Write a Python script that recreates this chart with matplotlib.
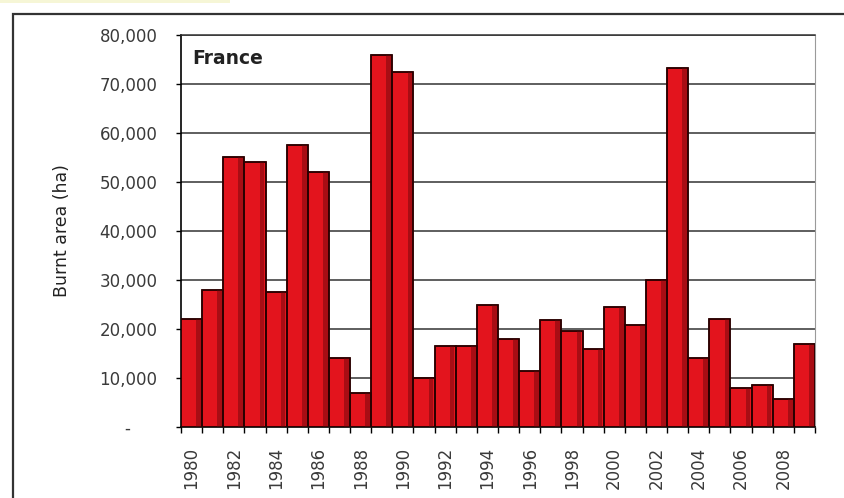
import matplotlib
matplotlib.use("Agg")
import matplotlib.pyplot as plt
from matplotlib.lines import Line2D
from matplotlib.patches import Rectangle
import numpy as np

# Burnt area in France per year (hectares)
years = list(range(1980, 2010))
burnt_area = [22000, 28000, 55000, 54000, 27500, 57500, 52000, 14000, 7000, 76000,
              72500, 10000, 16500, 16500, 25000, 18000, 11500, 21800, 19500, 16000,
              24500, 20800, 30000, 73300, 14000, 22000, 8000, 8500, 5700, 17000]
y_ticks = [0, 10000, 20000, 30000, 40000, 50000, 60000, 70000, 80000]
y_tick_labels = ["-     ", "10,000", "20,000", "30,000", "40,000",
                 "50,000", "60,000", "70,000", "80,000"]
country = "France"
y_title = "Burnt area (ha)"

W, H = 845, 498
fig = plt.figure(figsize=(W / 100, H / 100), dpi=100)
fig.patch.set_facecolor("white")

# faint yellow strip along the top edge and the outer frame
fig.add_artist(Rectangle((0, 1 - 3 / H), 230 / W, 3 / H, transform=fig.transFigure,
                         facecolor="#f6f6d6", edgecolor="none"))
fx, fy = 13.5 / W, 1 - 14.5 / H
fig.add_artist(Line2D([fx, fx, 1.0], [0.0, fy, fy], transform=fig.transFigure,
                      color="#333333", linewidth=1.6, solid_joinstyle="miter"))

ax = fig.add_axes([181 / W, 1 - 427 / H, (815 - 181) / W, (427 - 35) / H])

x = np.arange(len(years))
ax.bar(x, burnt_area, width=1.0, color="#e3141d", edgecolor="#2a0000",
       linewidth=1.1, zorder=3)
# darker shading on the right side of each bar
ax.bar(x + 0.33, burnt_area, width=0.22, color="#a80d14", edgecolor="none",
       linewidth=0, zorder=3.5)
ax.bar(x, burnt_area, width=1.0, color="none", edgecolor="#2a0000",
       linewidth=1.1, zorder=4)

ax.set_xlim(-0.5, len(years) - 0.5)
ax.set_ylim(0, 80000)

ax.set_yticks(y_ticks)
ax.set_yticklabels(y_tick_labels)
ax.yaxis.grid(True, color="#333333", linewidth=1.1, zorder=0)
ax.set_axisbelow(True)
ax.tick_params(axis="y", length=3.5, width=1.0, color="black", pad=13.5,
               labelsize=12, labelcolor="#3a3a3a")

# tick marks between bars, labels under every other bar
ax.set_xticks(np.arange(len(years) + 1) - 0.5)
ax.set_xticklabels([])
ax.tick_params(axis="x", which="major", length=4, width=1.0, color="black")
ax.set_xticks(x[::2], minor=True)
ax.set_xticklabels([str(y) for y in years[::2]], minor=True, rotation=90,
                   fontsize=12, color="#3a3a3a")
ax.tick_params(axis="x", which="minor", length=0, pad=14)

for side in ["left", "bottom"]:
    ax.spines[side].set_color("black")
    ax.spines[side].set_linewidth(1.2)
ax.spines["top"].set_color("#333333")
ax.spines["top"].set_linewidth(1.1)
ax.spines["right"].set_color("#9a9a9a")
ax.spines["right"].set_linewidth(0.8)

ax.set_ylabel(y_title, fontsize=12.5, color="#222222")
ax.yaxis.set_label_coords(-(181 - 62) / (815 - 181), 0.5)
ax.yaxis.label.set_verticalalignment("center")

ax.text(192 / W, 1 - 58 / H, country, transform=fig.transFigure, fontsize=13.5,
        fontweight="bold", color="#222222", ha="left", va="center")

fig.savefig("out.png", dpi=100, facecolor="white")
